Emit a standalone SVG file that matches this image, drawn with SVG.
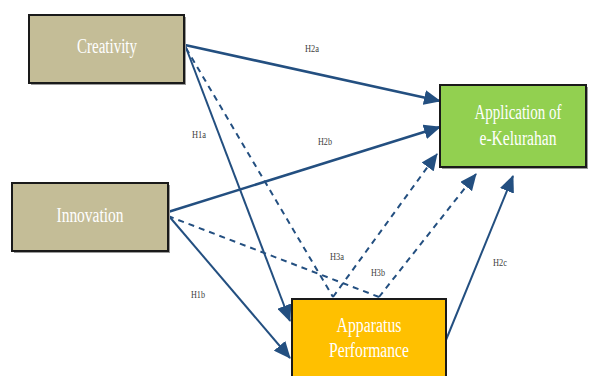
<svg xmlns="http://www.w3.org/2000/svg" width="590" height="376" viewBox="0 0 590 376">
<style>
.box{stroke:#1a1a1a;stroke-width:2}
.shadow{fill:#9a9a9a}
.t{font-family:"Liberation Serif","DejaVu Serif",serif;font-size:20px;fill:#ffffff;text-anchor:middle}
.lab{font-family:"Liberation Serif","DejaVu Serif",serif;font-size:11px;fill:#404040;text-anchor:middle}
.c{fill:none;stroke:#234f80;stroke-width:2}
.thick{stroke-width:2.6}
.d{stroke-dasharray:6 5}
</style>
<defs>
<marker id="ah" markerUnits="userSpaceOnUse" markerWidth="17" markerHeight="15" refX="16" refY="7.5" orient="auto">
<path d="M0,0 L17,7.5 L0,15 Z" fill="#234f80"/>
</marker>
</defs>
<g id="connectors">
<line class="c thick" x1="185" y1="45" x2="440" y2="101" marker-end="url(#ah)"/>
<line class="c thick" x1="168" y1="212" x2="440" y2="127" marker-end="url(#ah)"/>
<line class="c" x1="185" y1="45" x2="290" y2="321" marker-end="url(#ah)"/>
<line class="c" x1="168" y1="215" x2="290" y2="358" marker-end="url(#ah)"/>
<line class="c d" x1="186" y1="48" x2="333" y2="297"/>
<line class="c d" x1="168" y1="216" x2="379" y2="297"/>
<line class="c d" x1="333" y1="297" x2="437" y2="154" marker-end="url(#ah)"/>
<line class="c d" x1="379" y1="297" x2="476" y2="174" marker-end="url(#ah)"/>
<line class="c" x1="446" y1="340" x2="513" y2="176" marker-end="url(#ah)"/>
<text class="lab" x="312" y="52" textLength="14" lengthAdjust="spacingAndGlyphs">H2a</text>
<text class="lab" x="325" y="145" textLength="14" lengthAdjust="spacingAndGlyphs">H2b</text>
<text class="lab" x="199" y="138" textLength="14" lengthAdjust="spacingAndGlyphs">H1a</text>
<text class="lab" x="198" y="298" textLength="14" lengthAdjust="spacingAndGlyphs">H1b</text>
<text class="lab" x="337" y="260" textLength="14" lengthAdjust="spacingAndGlyphs">H3a</text>
<text class="lab" x="378" y="276" textLength="14" lengthAdjust="spacingAndGlyphs">H3b</text>
<text class="lab" x="500" y="266" textLength="14" lengthAdjust="spacingAndGlyphs">H2c</text>
</g>
<g id="creativity">
<rect class="shadow" x="31" y="17" width="155" height="68"/>
<rect class="box" x="29" y="15" width="155" height="68" fill="#c4bd97"/>
<text class="t" x="107" y="53" textLength="60" lengthAdjust="spacingAndGlyphs">Creativity</text>
</g>
<g id="innovation">
<rect class="shadow" x="14" y="185" width="156" height="68"/>
<rect class="box" x="12" y="183" width="156" height="68" fill="#c4bd97"/>
<text class="t" x="90" y="222" textLength="67" lengthAdjust="spacingAndGlyphs">Innovation</text>
</g>
<g id="application">
<rect class="shadow" x="442" y="87" width="146" height="82"/>
<rect class="box" x="440" y="85" width="146" height="82" fill="#92d050"/>
<text class="t" x="518" y="119" textLength="87" lengthAdjust="spacingAndGlyphs">Application of</text>
<text class="t" x="518" y="145" textLength="77" lengthAdjust="spacingAndGlyphs">e-Kelurahan</text>
</g>
<g id="apparatus">
<rect class="box" x="292" y="299" width="154" height="90" fill="#ffc000"/>
<text class="t" x="369" y="332" textLength="65" lengthAdjust="spacingAndGlyphs">Apparatus</text>
<text class="t" x="369" y="357" textLength="80" lengthAdjust="spacingAndGlyphs">Performance</text>
</g>
</svg>
